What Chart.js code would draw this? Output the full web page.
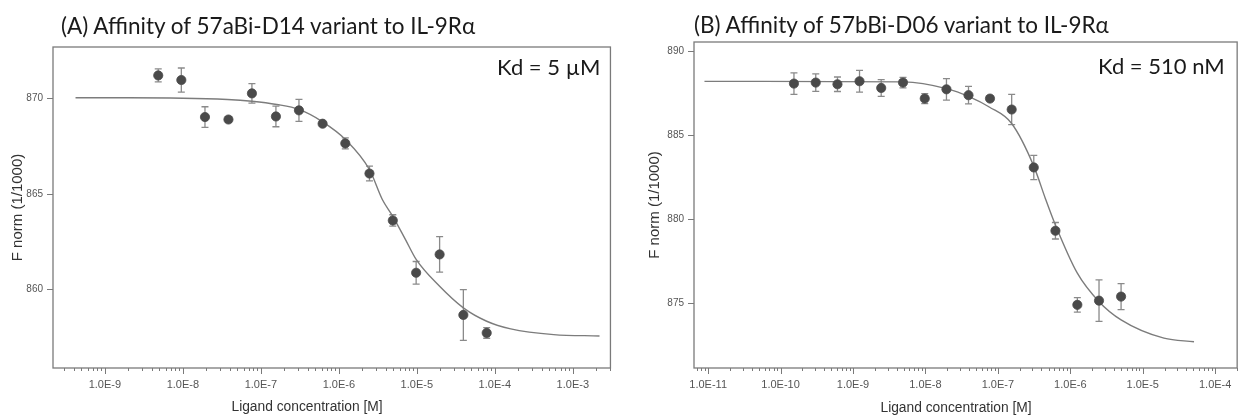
<!DOCTYPE html>
<html>
<head>
<meta charset="utf-8">
<script src="https://cdn.jsdelivr.net/npm/chart.js@4.4.1/dist/chart.umd.min.js"></script>
<style>
  body { margin: 0; background: #fff; }
  #wrap { position: relative; width: 1247px; height: 420px; overflow: hidden; background: #fff; }
  canvas { position: absolute; top: 0; }
  #chartA { left: 0; }
  #chartB { left: 620px; }
  .title { position: absolute; font-family: Lato, "Open Sans", sans-serif; font-size: 22.5px; color: #1a1a1a; white-space: nowrap; line-height: 1; }
  .kd { position: absolute; font-family: Lato, "Open Sans", sans-serif; font-size: 22px; color: #1a1a1a; white-space: nowrap; line-height: 1; }
  .xtitle { position: absolute; font-family: "Liberation Sans", Arial, sans-serif; font-size: 13.8px; color: #333; white-space: nowrap; transform: translate(-50%, -50%); }
</style>
</head>
<body>
<div id="wrap">
  <canvas id="chartA" width="620" height="420"></canvas>
  <canvas id="chartB" width="627" height="420"></canvas>
  <div class="title" style="left:61px; top:15px;">(A) Affinity of 57aBi-D14 variant to IL-9Rα</div>
  <div class="title" style="left:694px; top:14px;">(B) Affinity of 57bBi-D06 variant to IL-9Rα</div>
  <div class="kd" style="left:497px; top:56px;">Kd = 5 µM</div>
  <div class="kd" style="left:1098px; top:55px;">Kd = 510 nM</div>
  <div class="xtitle" style="left:307px; top:406px;">Ligand concentration [M]</div>
  <div class="xtitle" style="left:956px; top:407px;">Ligand concentration [M]</div>
</div>
<script>
// panel A: 57aBi-D14
const concA = [4.83e-9, 9.55e-9, 1.92e-8, 3.84e-8, 7.68e-8, 1.56e-7, 3.08e-7, 6.19e-7, 1.21e-6, 2.47e-6, 4.92e-6, 9.8e-6, 1.96e-5, 3.95e-5, 7.87e-5];
const fnormA = [871.22, 870.98, 869.04, 868.91, 870.28, 869.07, 869.39, 868.69, 867.66, 866.08, 863.62, 860.88, 861.84, 858.67, 857.73];
const errA = [0.34, 0.63, 0.54, 0.15, 0.51, 0.54, 0.58, 0.1, 0.29, 0.39, 0.3, 0.59, 0.93, 1.33, 0.28];
const fitConcA = [4.2e-10, 2.0e-9, 3.73e-8, 7.68e-8, 1.6e-7, 3.08e-7, 6.19e-7, 1.21e-6, 2.47e-6, 3.61e-6, 4.92e-6, 7.13e-6, 9.8e-6, 1.96e-5, 3.95e-5, 7.87e-5, 1.6e-4, 5.7e-4, 2.2e-3];
const fitA = [870.05, 870.05, 869.96, 869.87, 869.7, 869.44, 868.79, 867.87, 866.29, 864.72, 863.84, 862.63, 861.58, 860.17, 859.04, 858.34, 857.94, 857.64, 857.57];
const xTicksA = [1e-9, 1e-8, 1e-7, 1e-6, 1e-5, 1e-4, 1e-3];
const xLabelsA = ['1.0E-9', '1.0E-8', '1.0E-7', '1.0E-6', '1.0E-5', '1.0E-4', '1.0E-3'];
const yTicksA = [860, 865, 870];

// panel B: 57bBi-D06
const concB = [1.53e-10, 3.06e-10, 6.1e-10, 1.23e-9, 2.45e-9, 4.9e-9, 9.78e-9, 1.95e-8, 3.93e-8, 7.78e-8, 1.55e-7, 3.13e-7, 6.23e-7, 1.25e-6, 2.49e-6, 5.02e-6];
const fnormB = [888.07, 888.13, 888.03, 888.21, 887.81, 888.13, 887.18, 887.73, 887.38, 887.18, 886.53, 883.09, 879.33, 874.93, 875.18, 875.42];
const errB = [0.64, 0.52, 0.43, 0.65, 0.5, 0.31, 0.3, 0.64, 0.52, 0.08, 0.9, 0.72, 0.49, 0.43, 1.23, 0.77];
const fitConcB = [8.9e-12, 3.12e-11, 5.0e-9, 1.95e-8, 4.06e-8, 7.6e-8, 1.55e-7, 3.13e-7, 4.52e-7, 6.23e-7, 1.25e-6, 2.49e-6, 5.02e-6, 1.96e-5, 5.1e-5];
const fitB = [888.2, 888.2, 888.17, 887.77, 887.28, 886.68, 885.7, 883.17, 881.25, 879.67, 876.81, 875.12, 874.04, 872.95, 872.74];
const xTicksB = [1e-11, 1e-10, 1e-9, 1e-8, 1e-7, 1e-6, 1e-5, 1e-4];
const xLabelsB = ['1.0E-11', '1.0E-10', '1.0E-9', '1.0E-8', '1.0E-7', '1.0E-6', '1.0E-5', '1.0E-4'];
const yTicksB = [875, 880, 885, 890];

const pointColor = '#4a4a4a';
const lineColor = '#7c7c7c';
const axisColor = '#7a7a7a';

// minor ticks 1..9 per decade, major at powers of ten
function logTicks(min, max) {
	const out = [];
	for (let e = Math.floor(Math.log10(min)); e <= Math.ceil(Math.log10(max)); e++) {
		for (let k = 1; k <= 9; k++) {
			const v = k * Math.pow(10, e);
			if (v >= min && v <= max) out.push({ value: v, major: k === 1 });
		}
	}
	return out;
}

const errorBars = {
	id: 'errorBars',
	beforeDatasetsDraw(chart, args, opts) {
		const { ctx, scales: { x, y } } = chart;
		const pts = chart.data.datasets[0].data;
		ctx.save();
		ctx.strokeStyle = opts.color;
		ctx.lineWidth = 1.3;
		pts.forEach((p, i) => {
			const px = x.getPixelForValue(p.x);
			const top = y.getPixelForValue(p.y + opts.err[i]);
			const bot = y.getPixelForValue(p.y - opts.err[i]);
			ctx.beginPath();
			ctx.moveTo(px, top); ctx.lineTo(px, bot);
			ctx.moveTo(px - 3.5, top); ctx.lineTo(px + 3.5, top);
			ctx.moveTo(px - 3.5, bot); ctx.lineTo(px + 3.5, bot);
			ctx.stroke();
		});
		ctx.restore();
	}
};

const frame = {
	id: 'frame',
	afterDraw(chart) {
		const { ctx, chartArea: a, scales: { x } } = chart;
		ctx.save();
		ctx.strokeStyle = axisColor;
		ctx.lineWidth = 1.3;
		ctx.strokeRect(a.left, a.top, a.right - a.left, a.bottom - a.top);
		ctx.lineWidth = 1;
		x.ticks.forEach(t => {
			const px = Math.round(x.getPixelForValue(t.value)) + 0.5;
			ctx.beginPath();
			ctx.moveTo(px, a.bottom);
			ctx.lineTo(px, a.bottom + (t.major ? 6 : 3));
			ctx.stroke();
		});
		ctx.restore();
	}
};

function makeChart(id, p) {
	const ctx = document.getElementById(id).getContext('2d');
	return new Chart(ctx, {
		type: 'scatter',
		data: {
			datasets: [
				{
					data: p.conc.map((c, i) => ({ x: c, y: p.fnorm[i] })),
					pointRadius: 4.6,
					pointBackgroundColor: pointColor,
					pointBorderColor: pointColor,
					pointBorderWidth: 0.8,
					order: 0
				},
				{
					data: p.fitConc.map((c, i) => ({ x: c, y: p.fit[i] })),
					showLine: true,
					pointRadius: 0,
					borderColor: lineColor,
					borderWidth: 1.4,
					cubicInterpolationMode: 'monotone',
					order: 1
				}
			]
		},
		options: {
			responsive: false,
			animation: false,
			events: [],
			layout: { padding: { top: p.top, right: 2, bottom: 0, left: 0 } },
			plugins: {
				legend: { display: false },
				tooltip: { enabled: false },
				errorBars: { err: p.err, color: '#8a8a8a' }
			},
			scales: {
				x: {
					type: 'logarithmic',
					min: p.xMin,
					max: p.xMax,
					afterBuildTicks: s => { s.ticks = logTicks(p.xMin, p.xMax); },
					afterFit: s => { s.height = 52; },
					grid: { display: false, drawTicks: false },
					border: { display: false },
					ticks: {
						autoSkip: false,
						maxRotation: 0,
						padding: 10,
						color: '#555',
						font: { family: '"Liberation Sans", Arial, sans-serif', size: 11 },
						callback: (v, i, ticks) => {
							if (!ticks[i].major) return '';
							const j = p.xTicks.findIndex(t => Math.abs(Math.log10(t) - Math.log10(v)) < 1e-6);
							return j < 0 ? '' : p.xLabels[j];
						}
					}
				},
				y: {
					min: p.yMin,
					max: p.yMax,
					afterBuildTicks: s => { s.ticks = p.yTicks.map(v => ({ value: v })); },
					afterFit: s => { s.width = p.yWidth; },
					grid: { drawOnChartArea: false, tickLength: 6, color: axisColor, tickColor: axisColor },
					border: { display: false },
					ticks: {
						padding: 4,
						color: '#555',
						font: { family: '"Liberation Sans", Arial, sans-serif', size: 10 }
					},
					title: {
						display: true,
						text: 'F norm (1/1000)',
						color: '#333',
						font: { family: '"Liberation Sans", Arial, sans-serif', size: 15 },
						padding: { top: p.titlePad, bottom: 0 }
					}
				}
			}
		},
		plugins: [errorBars, frame]
	});
}

makeChart('chartA', {
	conc: concA, fnorm: fnormA, err: errA, fitConc: fitConcA, fit: fitA,
	xTicks: xTicksA, xLabels: xLabelsA, yTicks: yTicksA,
	xMin: 2.16e-10, xMax: 3.04e-3, yMin: 855.89, yMax: 872.71,
	top: 47, yWidth: 53, titlePad: 9
});

makeChart('chartB', {
	conc: concB, fnorm: fnormB, err: errB, fitConc: fitConcB, fit: fitB,
	xTicks: xTicksB, xLabels: xLabelsB, yTicks: yTicksB,
	xMin: 6.38e-12, xMax: 2.01e-4, yMin: 871.18, yMax: 890.54,
	top: 42, yWidth: 74, titlePad: 26
});
</script>
</body>
</html>
